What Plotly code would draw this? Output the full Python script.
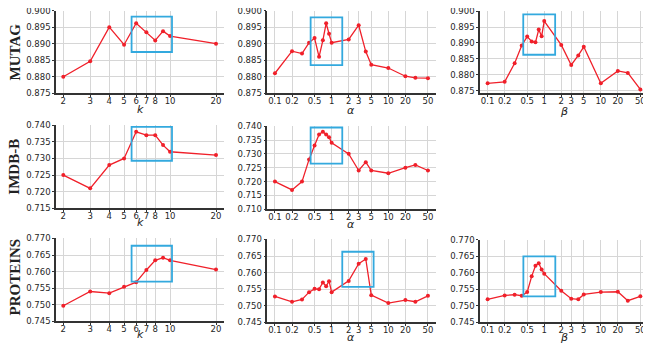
import plotly.graph_objects as go

# hyper-parameter grids
k_vals = [2, 3, 4, 5, 6, 7, 8, 9, 10, 20]
ab_vals = [0.1, 0.2, 0.3, 0.4, 0.5, 0.6, 0.7, 0.8, 0.9, 1, 2, 3, 4, 5, 10, 20, 30, 50]

# MUTAG
mutag_k = [0.8800, 0.8847, 0.8950, 0.8897, 0.8962, 0.8935, 0.8910, 0.8938, 0.8923, 0.8900]
mutag_alpha = [0.8810, 0.8877, 0.8870, 0.8903, 0.8917, 0.8860, 0.8910, 0.8962, 0.8930, 0.8903,
               0.8913, 0.8956, 0.8876, 0.8836, 0.8826, 0.8801, 0.8796, 0.8795]
mutag_beta = [0.8773, 0.8778, 0.8836, 0.8892, 0.8920, 0.8905, 0.8902, 0.8942, 0.8921, 0.8969,
              0.8894, 0.8831, 0.8861, 0.8888, 0.8773, 0.8812, 0.8806, 0.8754]

# IMDB-B
imdb_k = [0.725, 0.721, 0.728, 0.730, 0.738, 0.737, 0.737, 0.734, 0.732, 0.731]
imdb_alpha = [0.720, 0.717, 0.720, 0.728, 0.733, 0.737, 0.738, 0.737, 0.736, 0.734,
              0.730, 0.724, 0.727, 0.724, 0.723, 0.725, 0.726, 0.724]

# PROTEINS
prot_k = [0.7497, 0.7540, 0.7535, 0.7554, 0.7568, 0.7605, 0.7634, 0.7642, 0.7634, 0.7606]
prot_alpha = [0.7528, 0.7512, 0.7519, 0.7541, 0.7551, 0.7550, 0.7570, 0.7559, 0.7574, 0.7541,
              0.7575, 0.7627, 0.7641, 0.7532, 0.7508, 0.7517, 0.7512, 0.7530]
prot_beta = [0.7519, 0.7531, 0.7533, 0.7530, 0.7541, 0.7589, 0.7621, 0.7629, 0.7610, 0.7597,
             0.7545, 0.7521, 0.7519, 0.7534, 0.7541, 0.7542, 0.7515, 0.7528]

k_ticks = [2, 3, 4, 5, 6, 7, 8, 10, 20]
ab_ticks = [0.1, 0.2, 0.5, 1, 2, 3, 5, 10, 20, 50]

# highlight boxes (x0, x1, y0, y1)
box_mutag_k = (5.6, 10.3, 0.8875, 0.8982)
box_mutag_alpha = (0.426, 1.54, 0.8835, 0.8980)
box_mutag_beta = (0.426, 1.56, 0.8863, 0.8990)
box_imdb_k = (5.6, 10.3, 0.7293, 0.7395)
box_imdb_alpha = (0.426, 1.54, 0.7265, 0.7395)
box_prot_k = (5.6, 10.3, 0.7570, 0.7678)
box_prot_alpha = (1.54, 5.5, 0.7557, 0.7663)
box_prot_beta = (0.428, 1.57, 0.7528, 0.7650)

# page body has an 8px margin, so the figure is drawn 8px smaller and offset
OFF = 8
W, H = 651 - OFF, 346 - OFF
RED = "#f0202a"
BLUE = "#33a9de"


def px_x(p):
    return (p - OFF) / W


def px_y(p):
    return 1 - (p - OFF) / H


# (x, y, ticks, label, x px span, y px span, y range, box, label y px)
panels = [
    (k_vals, mutag_k, k_ticks, "k", (56, 224), (10.5, 93.3), (0.875, 0.900), box_mutag_k, 109),
    (ab_vals, mutag_alpha, ab_ticks, "α", (267.3, 435.6), (10.6, 93.0), (0.875, 0.900), box_mutag_alpha, 110),
    (ab_vals, mutag_beta, ab_ticks, "β", (480, 648), (11, 93.3), (0.87418, 0.900), box_mutag_beta, 111),
    (k_vals, imdb_k, k_ticks, "k", (56, 224), (125, 208.3), (0.715, 0.740), box_imdb_k, 222),
    (ab_vals, imdb_alpha, ab_ticks, "α", (267.3, 435.6), (126, 209.3), (0.710, 0.740), box_imdb_alpha, 224),
    (k_vals, prot_k, k_ticks, "k", (56, 224), (238.3, 321.3), (0.745, 0.770), box_prot_k, 334),
    (ab_vals, prot_alpha, ab_ticks, "α", (267.3, 435.6), (239.3, 322.3), (0.745, 0.770), box_prot_alpha, 337),
    (ab_vals, prot_beta, ab_ticks, "β", (480, 648), (239.7, 322), (0.745, 0.770), box_prot_beta, 337),
]

fig = go.Figure()
layout = {}
shapes = []
annotations = []
tickfont = dict(family="DejaVu Sans", size=8.5, color="#262626")

for i, (xs, ys, ticks, lab, xpx, ypx, yr, box, laby) in enumerate(panels):
    n = "" if i == 0 else str(i + 1)
    fig.add_trace(go.Scatter(
        x=xs, y=ys, mode="lines+markers", xaxis="x" + n, yaxis="y" + n,
        line=dict(color=RED, width=1.3), marker=dict(color=RED, size=4),
        showlegend=False, hoverinfo="x+y"))
    if xs is k_vals:
        lo, hi = 0.2532, 1.3534
    else:
        lo, hi = -1.135, 1.834
    layout["xaxis" + n] = dict(
        type="log", domain=[px_x(xpx[0]), px_x(xpx[1])], range=[lo, hi], anchor="y" + n,
        tickmode="array", tickvals=ticks, ticktext=[str(t) for t in ticks],
        showgrid=True, gridcolor="#d6d6d6", gridwidth=1,
        showline=True, linecolor="#333333", linewidth=1.5,
        ticks="outside", ticklen=2, tickcolor="#333333", tickfont=tickfont,
        ticklabelstandoff=-3, ticklabeloverflow="allow",
        automargin=False, zeroline=False, fixedrange=True)
    layout["yaxis" + n] = dict(
        domain=[px_y(ypx[1]), px_y(ypx[0])], range=[yr[0], yr[1] + 0.00005], anchor="x" + n,
        dtick=0.005, tick0=0.7, tickformat=".3f",
        showgrid=True, gridcolor="#d6d6d6", gridwidth=1,
        showline=True, linecolor="#333333", linewidth=1.5,
        ticks="outside", ticklen=2, tickcolor="#333333", tickfont=tickfont,
        ticklabeloverflow="allow",
        automargin=False, zeroline=False, fixedrange=True)
    shapes.append(dict(type="rect", xref="x" + n, yref="y" + n,
                       x0=box[0], x1=box[1], y0=box[2], y1=box[3],
                       line=dict(color=BLUE, width=1.8)))
    annotations.append(dict(text="<i>" + lab + "</i>", x=px_x((xpx[0] + xpx[1]) / 2), y=px_y(laby),
                            xref="paper", yref="paper", showarrow=False,
                            xanchor="center", yanchor="middle",
                            font=dict(family="DejaVu Sans", size=11, color="#222")))

row_labels = [("MUTAG", 52.5), ("IMDB-B", 166.7), ("PROTEINS", 277.5)]
for t, yc in row_labels:
    annotations.append(dict(text="<b>" + t + "</b>", x=px_x(14), y=px_y(yc), xref="paper", yref="paper",
                            textangle=-90, showarrow=False, xanchor="center", yanchor="middle",
                            font=dict(family="Liberation Serif", size=15, color="#222")))

fig.update_layout(**layout)
fig.update_layout(
    width=W, height=H, margin=dict(l=0, r=0, t=0, b=0),
    paper_bgcolor="white", plot_bgcolor="white",
    shapes=shapes, annotations=annotations)

fig.write_html("out.html")
